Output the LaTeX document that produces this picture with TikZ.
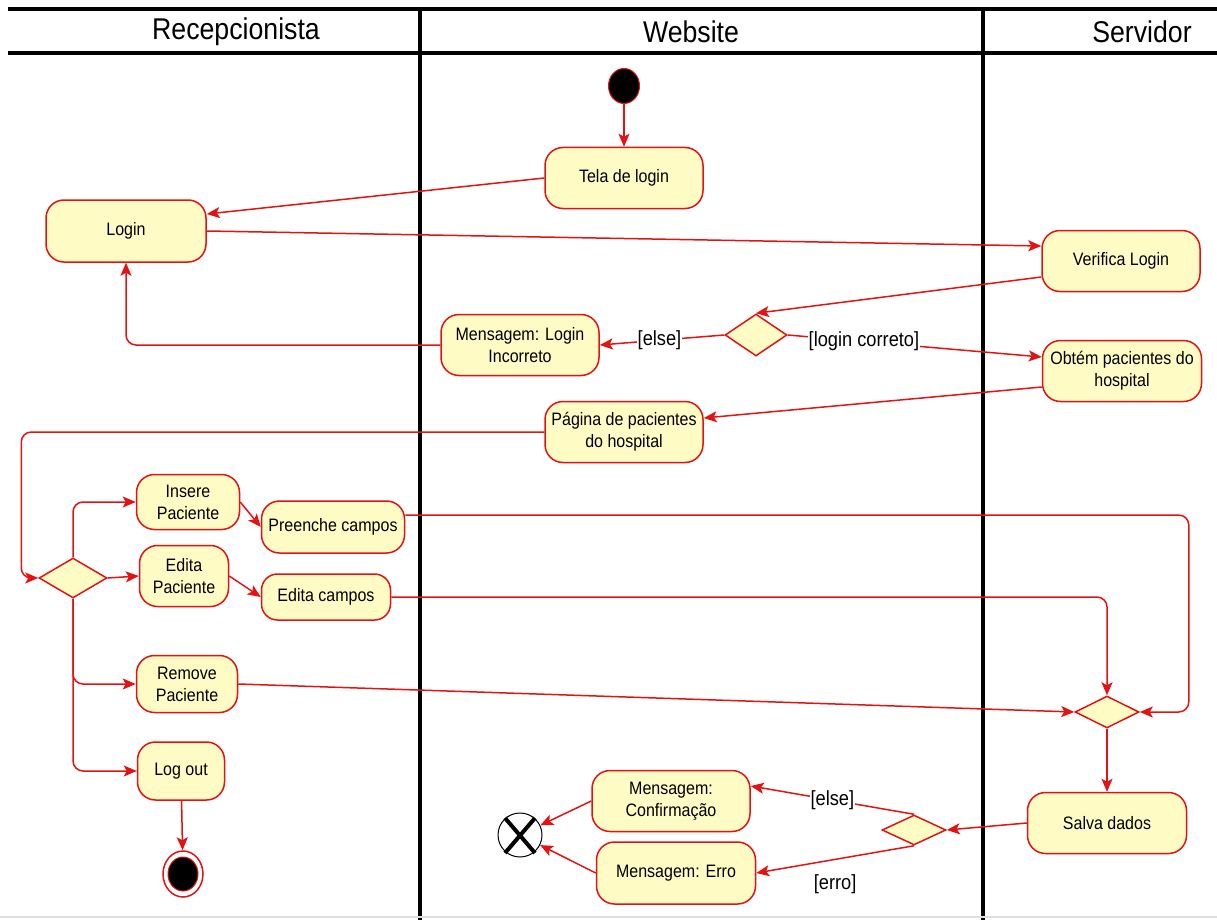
\documentclass[tikz,border=0pt]{standalone}
\usepackage{fontspec}
\setmainfont{Liberation Sans}
\newfontfamily\narrowsans[FakeStretch=0.89]{Liberation Sans}
\usetikzlibrary{arrows.meta,shapes.geometric,calc}

\definecolor{umlred}{RGB}{228,18,18}
\definecolor{umlfill}{RGB}{255,251,196}

\begin{document}
\begin{tikzpicture}[x=1pt,y=-1pt,
  act/.style={draw=umlred, fill=umlfill, line width=1.5pt, rounded corners=18pt,
    align=center, inner sep=0pt, font=\narrowsans\fontsize{18}{22}\selectfont},
  decision/.style={diamond, draw=umlred, fill=umlfill, line width=1.5pt, inner sep=0pt},
  flow/.style={draw=umlred, line width=1.5pt, -{Stealth[length=13pt,width=11pt,inset=3pt]}},
  lab/.style={font=\narrowsans\fontsize{20.5}{23}\selectfont, fill=white, inner sep=1pt},
  lane/.style={line width=4.5pt},
  lanetitle/.style={font=\narrowsans\fontsize{30}{33}\selectfont}
]
\useasboundingbox (0,0) rectangle (1217,920);

% swimlanes
\draw[lane] (8,9) -- (1217,9);
\draw[lane] (8,53) -- (1217,53);
\draw[lane] (420,9) -- (420,920);
\draw[lane] (983,9) -- (983,920);
\draw[gray!25, line width=2pt] (0,917) -- (1217,917);
\node[lanetitle] (hrec) at (236,32) {Recepcionista};
\node[lanetitle] (hweb) at (691,32) {Website};
\node[lanetitle] (hsrv) at (1142,32) {Servidor};

% start / end markers
\node[ellipse, draw=umlred, fill=black, line width=1pt, minimum width=31pt, minimum height=35pt, inner sep=0pt] (init) at (624,86) {};
\node[ellipse, draw=umlred, fill=white, line width=1.5pt, minimum width=40pt, minimum height=46pt, inner sep=0pt] (final) at (183,874) {};
\node[ellipse, draw=umlred, fill=black, line width=1pt, minimum width=30pt, minimum height=34pt, inner sep=0pt] (finalin) at (183,874) {};
\node[circle, draw=black, line width=1pt, minimum size=44pt, inner sep=0pt] (xf) at (520,835) {};
\draw[line width=4pt] ($(xf)+(-15,-17)$) -- ($(xf)+(15,18)$);
\draw[line width=4pt] ($(xf)+(15,-17)$) -- ($(xf)+(-15,18)$);

% activities
\node[act, minimum width=158pt, minimum height=61pt] (tela) at (624,178) {Tela de login};
\node[act, minimum width=160pt, minimum height=62pt] (login) at (126,231) {Login};
\node[act, minimum width=158pt, minimum height=61pt] (verif) at (1121,261) {Verifica Login};
\node[act, minimum width=158pt, minimum height=61pt] (msg1) at (520,345) {Mensagem: Login\\Incorreto};
\node[act, minimum width=159pt, minimum height=61pt] (obtem) at (1122,371) {Obtém pacientes do\\hospital};
\node[act, minimum width=158pt, minimum height=61pt] (pag) at (624,432) {Página de pacientes\\do hospital};
\node[act, minimum width=103pt, minimum height=55pt] (insere) at (188,502) {Insere\\Paciente};
\node[act, minimum width=143pt, minimum height=52pt] (preenche) at (333,527) {Preenche campos};
\node[act, minimum width=89pt, minimum height=61pt] (edita) at (184,576) {Edita\\Paciente};
\node[act, minimum width=129pt, minimum height=46pt, rounded corners=16pt] (editac) at (326,597) {Edita campos};
\node[act, minimum width=101pt, minimum height=57pt] (remove) at (187,684) {Remove\\Paciente};
\node[act, minimum width=87pt, minimum height=58pt] (logout) at (181,771) {Log out};
\node[act, minimum width=159pt, minimum height=61pt] (salva) at (1107,823) {Salva dados};
\node[act, minimum width=158pt, minimum height=61pt] (conf) at (671,801) {Mensagem:\\Confirmação};
\node[act, minimum width=159pt, minimum height=62pt] (erro) at (676,873) {Mensagem: Erro};

% decisions
\node[decision, minimum width=62pt, minimum height=42pt] (d1) at (756,335) {};
\node[decision, minimum width=68pt, minimum height=40pt] (d2) at (73,578) {};
\node[decision, minimum width=64pt, minimum height=32pt] (d3) at (1107,712) {};
\node[decision, minimum width=64pt, minimum height=30pt] (d4) at (914,830) {};

% control flow
\draw[flow] (init) -- (tela);
\draw[flow] (tela.west) -- ($(login.east)+(0,-17)$);
\draw[flow] (login.east) -- ($(verif.west)+(0,-15)$);
\draw[flow] ($(verif.west)+(0,16)$) -- (d1.north);
\draw[flow] (d1.west) -- node[lab, pos=0.52] {[else]} (msg1.east);
\draw[flow] (d1.east) -- node[lab, pos=0.30] {[login correto]} ($(obtem.west)+(0,-14)$);
\draw[flow, rounded corners=10pt] (msg1.west) -| (login.south);
\draw[flow] ($(obtem.west)+(0,16)$) -- ($(pag.east)+(0,-14)$);
\draw[flow, rounded corners=10pt] (pag.west) -| ($(d2.west)+(-17,0)$) -- (d2.west);
\draw[flow, rounded corners=10pt] (d2.north) |- (insere.west);
\draw[flow] (d2.east) -- (edita.west);
\draw[flow, rounded corners=10pt] (d2.south) |- (remove.west);
\draw[flow, rounded corners=10pt] (d2.south) |- (logout.west);
\draw[flow] (insere.east) -- (preenche.west);
\draw[flow] (edita.east) -- (editac.west);
\draw[flow, rounded corners=10pt] ($(preenche.east)+(0,-12)$) -| ($(d3.east)+(49,0)$) -- (d3.east);
\draw[flow, rounded corners=10pt] (editac.east) -| (d3.north);
\draw[flow] (remove.east) -- (d3.west);
\draw[flow] (d3.south) -- (salva.north);
\draw[flow] (salva.west) -- (d4.east);
\draw[flow] (d4.north) -- node[lab, pos=0.5] {[else]} ($(conf.east)+(0,-15)$);
\draw[flow] (d4.south) -- node[lab, pos=0.5, yshift=-25pt] {[erro]} (erro.east);
\draw[flow] (conf.west) -- (xf);
\draw[flow] (erro.west) -- (xf);
\draw[flow] (logout) -- (final);
\end{tikzpicture}
\end{document}
